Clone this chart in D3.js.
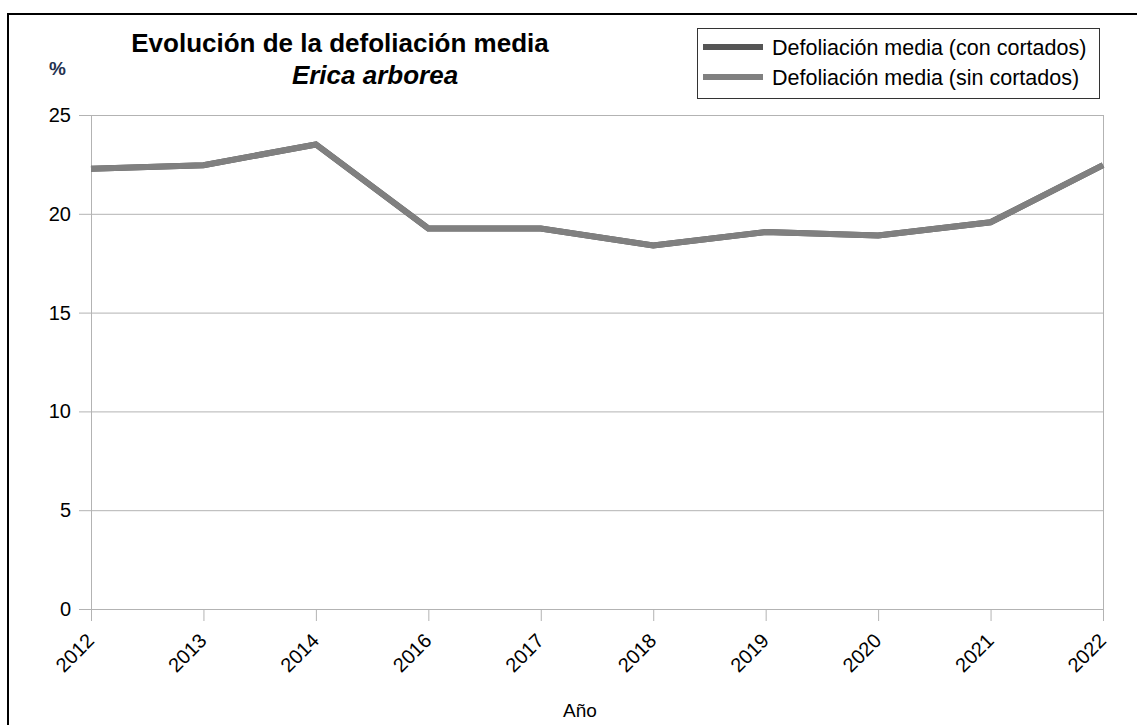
<!DOCTYPE html>
<html>
<head>
<meta charset="utf-8">
<script src="https://cdn.jsdelivr.net/npm/d3@7"></script>
<style>
  body { margin: 0; background: #fff; }
  text { font-family: "Liberation Sans", Arial, sans-serif; fill: #000; }
</style>
</head>
<body>
<script>
var width = 1137, height = 725;

// data
var years = ["2012", "2013", "2014", "2016", "2017", "2018", "2019", "2020", "2021", "2022"];
var conCortados = [22.28, 22.46, 23.51, 19.26, 19.26, 18.4, 19.08, 18.9, 19.57, 22.46];
var sinCortados = [22.28, 22.46, 23.51, 19.26, 19.26, 18.4, 19.08, 18.9, 19.57, 22.46];
var yTicks = [0, 5, 10, 15, 20, 25];
var seriesNames = ["Defoliación media (con cortados)", "Defoliación media (sin cortados)"];
var seriesColors = ["#555555", "#808080"];

var plotLeft = 91, plotRight = 1103, plotTop = 115, plotBottom = 609;

var svg = d3.select("body").append("svg")
    .attr("width", width)
    .attr("height", height);

svg.append("rect")
   .attr("width", width).attr("height", height)
   .style("fill", "#fff");

// outer frame
svg.append("rect")
   .attr("x", 8).attr("y", 14)
   .attr("width", width + 10).attr("height", height)
   .style("fill", "none")
   .style("stroke", "#000")
   .style("stroke-width", 2);

var x = d3.scalePoint().domain(years).range([plotLeft, plotRight]);
var y = d3.scaleLinear().domain([0, 25]).range([plotBottom, plotTop]);

// y ticks
var yAxis = svg.append("g")
   .attr("transform", "translate(" + plotLeft + ",0)")
   .call(d3.axisLeft(y).tickValues(yTicks).tickSize(12).tickPadding(8));
yAxis.select(".domain").remove();
yAxis.selectAll("line").style("stroke", "#b3b3b3");
yAxis.selectAll("text")
   .style("font-size", "20px")
   .style("font-family", "'Liberation Sans', Arial, sans-serif");

// horizontal grid
svg.selectAll(".grid")
   .data(yTicks)
   .enter().append("line")
   .attr("class", "grid")
   .attr("x1", plotLeft).attr("x2", plotRight)
   .attr("y1", function(d){ return y(d) + 0.5 })
   .attr("y2", function(d){ return y(d) + 0.5 })
   .style("stroke", "#b3b3b3");

// plot sides
svg.selectAll(".side")
   .data([plotLeft, plotRight])
   .enter().append("line")
   .attr("x1", function(d){ return d + 0.5 }).attr("x2", function(d){ return d + 0.5 })
   .attr("y1", plotTop).attr("y2", plotBottom)
   .style("stroke", "#b3b3b3");

// x axis
var xAxis = svg.append("g")
   .attr("transform", "translate(0," + plotBottom + ")")
   .call(d3.axisBottom(x).tickSize(12).tickPadding(8));
xAxis.select(".domain").remove();
xAxis.selectAll("line").style("stroke", "#b3b3b3");
xAxis.selectAll("text")
   .style("font-size", "20px")
   .style("font-family", "'Liberation Sans', Arial, sans-serif")
   .attr("text-anchor", "end")
   .attr("x", 0).attr("y", 0)
   .attr("dy", "0.35em")
   .attr("transform", "translate(-1,28) rotate(-45)");

// lines
var line = d3.line()
   .x(function(d, i){ return x(years[i]) })
   .y(function(d){ return y(d) });

[conCortados, sinCortados].forEach(function(s, i){
  svg.append("path")
     .datum(s)
     .attr("d", line)
     .style("fill", "none")
     .style("stroke", seriesColors[i])
     .style("stroke-width", 6);
});

// titles
svg.append("text")
   .text("Evolución de la defoliación media")
   .attr("x", 340).attr("y", 52)
   .attr("text-anchor", "middle")
   .style("font-size", "26px")
   .style("font-weight", "bold");

svg.append("text")
   .text("Erica arborea")
   .attr("x", 375).attr("y", 84)
   .attr("text-anchor", "middle")
   .style("font-size", "26px")
   .style("font-weight", "bold")
   .style("font-style", "italic");

svg.append("text")
   .text("%")
   .attr("x", 49).attr("y", 75)
   .style("font-size", "19px")
   .style("font-weight", "bold")
   .style("fill", "#24324f");

svg.append("text")
   .text("Año")
   .attr("x", 580).attr("y", 717)
   .attr("text-anchor", "middle")
   .style("font-size", "19px");

// legend
var legend = svg.append("g");
legend.append("rect")
   .attr("x", 697.5).attr("y", 28.5)
   .attr("width", 402).attr("height", 70)
   .style("fill", "#fff")
   .style("stroke", "#333");

var items = legend.selectAll(".item")
   .data(seriesNames)
   .enter().append("g")
   .attr("transform", function(d, i){ return "translate(0," + (47 + i * 30) + ")" });

items.append("line")
   .attr("x1", 703).attr("x2", 763)
   .style("stroke", function(d, i){ return seriesColors[i] })
   .style("stroke-width", 6);

items.append("text")
   .text(function(d){ return d })
   .attr("x", 772).attr("dy", "0.35em")
   .style("font-size", "21.5px");
</script>
</body>
</html>
